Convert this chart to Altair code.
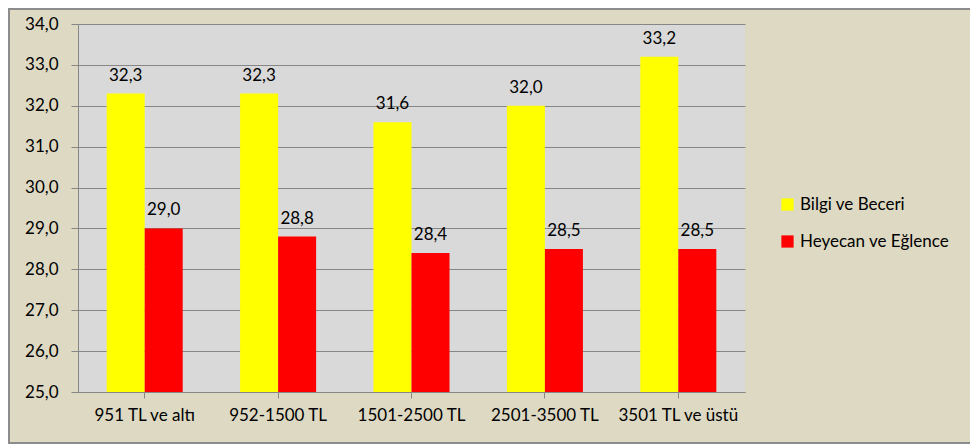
import altair as alt
import pandas as pd

categories = ["951 TL ve altı", "952-1500 TL", "1501-2500 TL", "2501-3500 TL", "3501 TL ve üstü"]
series = ["Bilgi ve Beceri", "Heyecan ve Eğlence"]
bilgi = [32.3, 32.3, 31.6, 32.0, 33.2]
heyecan = [29.0, 28.8, 28.4, 28.5, 28.5]
colors = ["#FFFF00", "#FF0000"]

rows = []
for c, b, h in zip(categories, bilgi, heyecan):
    rows.append({"cat": c, "series": series[0], "value": b})
    rows.append({"cat": c, "series": series[1], "value": h})
df = pd.DataFrame(rows)

FONT = "Lato"
FS = 17

xenc = alt.X("cat:N", sort=categories, title=None,
             scale=alt.Scale(paddingInner=0.43, paddingOuter=0.215),
             axis=alt.Axis(labelAngle=0, labelFontSize=FS, labelFont=FONT, labelColor="#000000",
                           domainColor="#868686", tickColor="#868686", tickSize=6,
                           labelPadding=9, grid=False))
yscale = alt.Scale(domain=[25, 34], nice=False, zero=False)

bars = alt.Chart(df).mark_bar(clip=True).encode(
    x=xenc,
    xOffset=alt.XOffset("series:N", sort=series),
    y=alt.Y("value:Q", scale=yscale, title=None,
            axis=alt.Axis(values=[25, 26, 27, 28, 29, 30, 31, 32, 33, 34],
                          labelExpr="replace(format(datum.value, '.1f'), '.', ',')",
                          labelFontSize=FS, labelFont=FONT, labelColor="#000000",
                          domainColor="#868686", tickColor="#868686", tickSize=7,
                          labelPadding=13, gridColor="#868686", gridWidth=1)),
    color=alt.Color("series:N", sort=series, scale=alt.Scale(domain=series, range=colors),
                    legend=alt.Legend(title=None, orient="none", legendX=701, legendY=172,
                                      symbolType="square", symbolSize=150, symbolStrokeWidth=0,
                                      labelFontSize=FS, labelFont=FONT, labelColor="#000000",
                                      rowPadding=19, labelOffset=4)),
)

labels = alt.Chart(df).transform_calculate(
    lbl="replace(format(datum.value, '.1f'), '.', ',')"
).mark_text(baseline="bottom", dy=-9, fontSize=FS, font=FONT, color="#000000").encode(
    x=alt.X("cat:N", sort=categories),
    xOffset=alt.XOffset("series:N", sort=series),
    y=alt.Y("value:Q", scale=yscale),
    text="lbl:N",
)

frame = alt.Chart(pd.DataFrame({"a": [0]})).mark_rect(
    fill=None, stroke="#8C8C8C", strokeWidth=2, clip=False
).encode(x=alt.value(-69), x2=alt.value(910), y=alt.value(-15), y2=alt.value(419))

chart = alt.layer(frame, bars, labels).properties(
    width=667, height=368,
    autosize=alt.AutoSizeParams(type="none"),
    padding={"left": 70, "top": 16, "right": 225, "bottom": 52},
    background="#DDD9C3",
).configure_view(fill="#D9D9D9", stroke=None)

chart.save("out.html", embed_options={"renderer": "svg", "actions": False})
